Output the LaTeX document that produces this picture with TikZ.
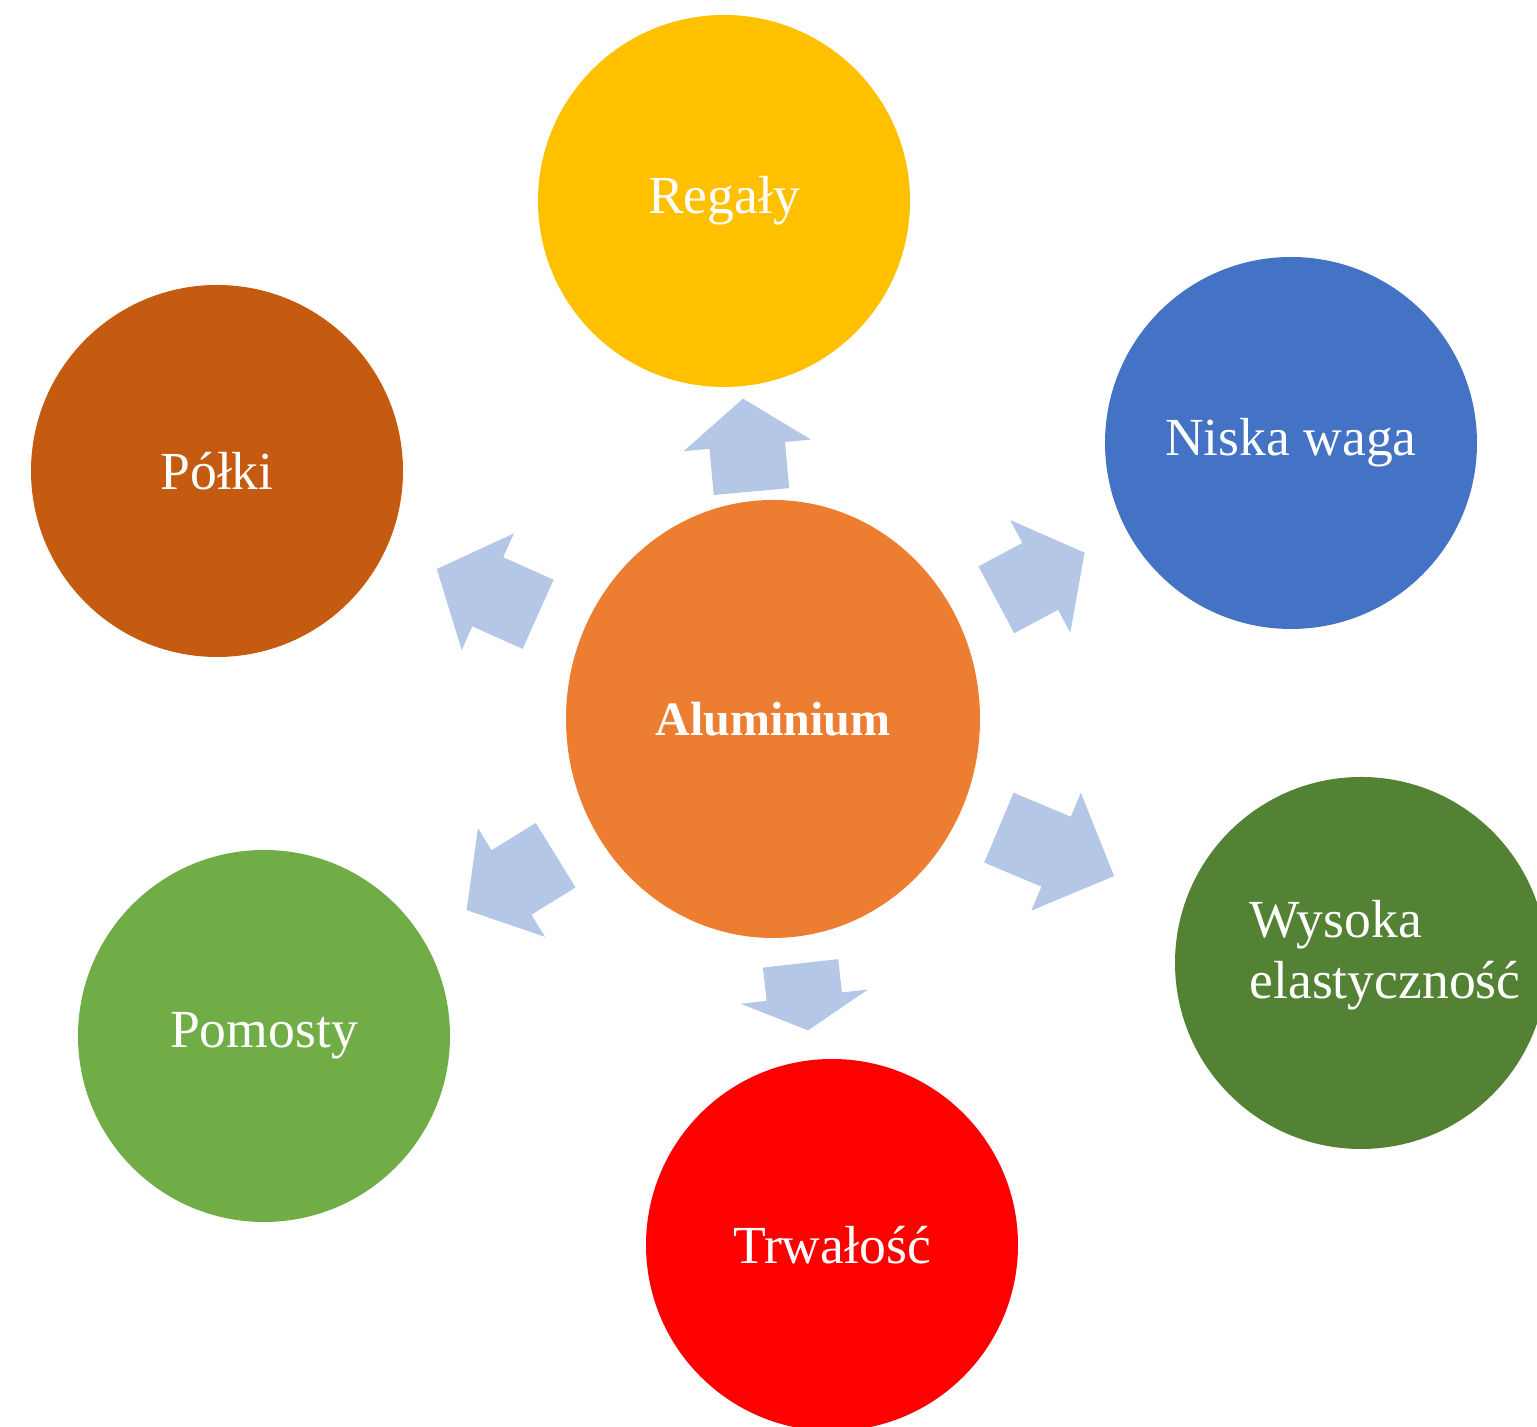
\documentclass[tikz,border=0pt]{standalone}
\usepackage{fontspec}
\setmainfont{Liberation Serif}
\usetikzlibrary{shapes.geometric,shapes.arrows}

\definecolor{alu}{HTML}{ED7D31}
\definecolor{regaly}{HTML}{FFC000}
\definecolor{niska}{HTML}{4472C4}
\definecolor{elast}{HTML}{548235}
\definecolor{trwalosc}{HTML}{FF0000}
\definecolor{pomosty}{HTML}{70AD47}
\definecolor{polki}{HTML}{C55A11}
\definecolor{arrowblue}{HTML}{B4C7E7}

\def\bubblelist{{(724,1226)/reg/regaly/Regały}, {(1291,984)/nis/niska/Niska waga},
  {(832,182)/trw/trwalosc/Trwałość}, {(264,391)/pom/pomosty/Pomosty},
  {(217,956)/pol/polki/Półki}}
% tail / direction / length / tip angle / name
\def\arrowlist{{(751.5,935)/95.2/46.7pt/107.3/ar-reg}, {(996,827)/28.1/50pt/103.6/ar-nis},
  {(998.5,599.5)/-22.8/62.5pt/90.9/ar-wys}, {(800.5,464)/-83.6/33.7pt/124.1/ar-trw},
  {(556,572)/211.7/52.3pt/101.0/ar-pom}, {(538.5,812.5)/155.9/55.5pt/97.7/ar-pol}}

\tikzstyle{hub}=[ellipse,fill=alu,minimum width=207pt,minimum height=219pt,inner sep=0pt,
  text=white,font=\bfseries\fontsize{24}{28}\selectfont]
\tikzstyle{bubble}=[circle,minimum size=186pt,inner sep=0pt,text=white,
  font=\fontsize{26.8}{30.5}\selectfont]
% the shaft is as wide as twice the inner ysep of an empty node
\tikzstyle{blockarrow}=[single arrow,fill=arrowblue,inner xsep=0pt,inner ysep=18.75pt,
  single arrow head extend=13pt,anchor=tail]

\begin{document}
\begin{tikzpicture}[x=0.5pt,y=0.5pt]
  \useasboundingbox (0,0) rectangle (1537,1427);
  \clip (0,0) rectangle (1537,1427);

  % The material in the middle
  \node[hub] (alu) at (773,708) {Aluminium};

  % Uses and properties around it
  \foreach \pos/\name/\col/\txt in \bubblelist
    \node[bubble,fill=\col] (\name) at \pos {\txt};

  \node[bubble,fill=elast] (wys) at (1361,464) {};
  \node[text=white,font=\fontsize{26.8}{30.5}\selectfont,align=left,inner sep=0pt]
    (wys-txt) at ([xshift=12pt,yshift=4pt]wys.center) {Wysoka\\elastyczność};

  % Arrows pointing outwards
  \foreach \pos/\ang/\len/\tip/\name in \arrowlist
    \node[blockarrow,rotate=\ang,minimum height=\len,single arrow tip angle=\tip]
      (\name) at \pos {};
\end{tikzpicture}
\end{document}
